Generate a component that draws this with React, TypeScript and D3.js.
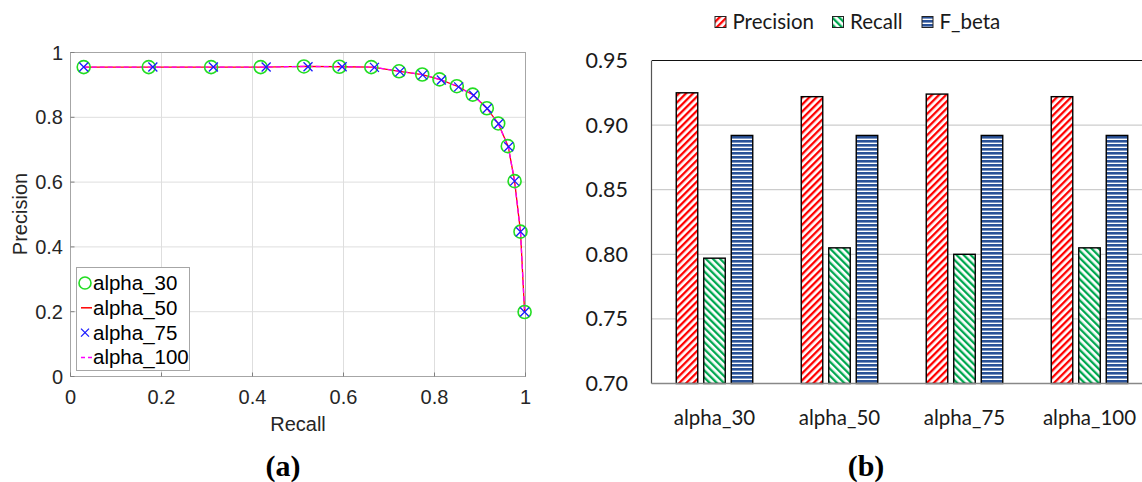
import React from "react";
import * as d3 from "d3";

// ---------- Data: left (PR curves) ----------
const recall30 = [0.029, 0.172, 0.309, 0.418, 0.513, 0.591, 0.661, 0.722, 0.773, 0.811, 0.849, 0.884, 0.915, 0.94, 0.961, 0.976, 0.989, 0.998];
const prec30 = [0.955, 0.955, 0.955, 0.955, 0.957, 0.956, 0.955, 0.942, 0.932, 0.917, 0.896, 0.87, 0.828, 0.781, 0.711, 0.603, 0.447, 0.199];
const recall50 = [0.029, 0.176, 0.311, 0.424, 0.517, 0.594, 0.664, 0.723, 0.773, 0.813, 0.851, 0.885, 0.915, 0.94, 0.962, 0.976, 0.989, 0.998];
const prec50 = [0.955, 0.955, 0.955, 0.955, 0.957, 0.956, 0.955, 0.942, 0.932, 0.916, 0.895, 0.869, 0.828, 0.781, 0.71, 0.603, 0.447, 0.199];
const recall75 = [0.029, 0.181, 0.314, 0.43, 0.522, 0.597, 0.668, 0.724, 0.774, 0.815, 0.853, 0.886, 0.916, 0.941, 0.963, 0.976, 0.989, 0.998];
const prec75 = [0.955, 0.955, 0.955, 0.955, 0.956, 0.956, 0.954, 0.941, 0.931, 0.915, 0.894, 0.868, 0.827, 0.78, 0.709, 0.603, 0.447, 0.199];
const recall100 = [0.029, 0.176, 0.311, 0.424, 0.517, 0.594, 0.664, 0.723, 0.773, 0.813, 0.851, 0.885, 0.915, 0.94, 0.962, 0.976, 0.989, 0.998];
const prec100 = [0.955, 0.955, 0.955, 0.955, 0.957, 0.956, 0.955, 0.942, 0.932, 0.916, 0.895, 0.869, 0.828, 0.781, 0.71, 0.603, 0.447, 0.199];
const leftTicks = [0, 0.2, 0.4, 0.6, 0.8, 1];
const leftTickLabels = ["0", "0.2", "0.4", "0.6", "0.8", "1"];
const leftLegend = ["alpha_30", "alpha_50", "alpha_75", "alpha_100"];

// ---------- Data: right (bars) ----------
const categories = ["alpha_30", "alpha_50", "alpha_75", "alpha_100"];
const seriesNames = ["Precision", "Recall", "F_beta"];
const precisionVals = [0.925, 0.922, 0.924, 0.922];
const recallVals = [0.797, 0.805, 0.8, 0.805];
const fbetaVals = [0.892, 0.892, 0.892, 0.892];
const rightTicks = [0.7, 0.75, 0.8, 0.85, 0.9, 0.95];
const rightTickLabels = ["0.70", "0.75", "0.80", "0.85", "0.90", "0.95"];

const patternIds = ["patP", "patR", "patF"];

export default function App() {
  // left scales
  const lx = d3.scaleLinear().domain([0, 1]).range([70.5, 525.5]);
  const ly = d3.scaleLinear().domain([0, 1]).range([376.5, 52.5]);
  const line = d3
    .line<[number, number]>()
    .x((d) => lx(d[0]))
    .y((d) => ly(d[1]));
  const zip = (a: number[], b: number[]) => a.map((v, i) => [v, b[i]] as [number, number]);
  const pts30 = zip(recall30, prec30);
  const pts50 = zip(recall50, prec50);
  const pts75 = zip(recall75, prec75);
  const pts100 = zip(recall100, prec100);

  // right scales
  const bx = d3.scaleBand().domain(categories).range([652, 1152]).paddingInner(0).paddingOuter(0);
  const by = d3.scaleLinear().domain([0.7, 0.95]).range([383.5, 60.5]);
  const seriesVals = [precisionVals, recallVals, fbetaVals];

  const leftFont = "'Liberation Sans', Arial, sans-serif";
  const rightFont = "Lato, 'Open Sans', sans-serif";
  const serif = "'Liberation Serif', 'Times New Roman', serif";

  const crossPath = (cx: number, cy: number, s: number) =>
    `M${cx - s},${cy - s}L${cx + s},${cy + s}M${cx - s},${cy + s}L${cx + s},${cy - s}`;

  return (
    <svg
      width={1142}
      height={482}
      style={{ position: "absolute", left: 0, top: 0, background: "#fff" }}
    >
      <defs>
        <pattern id="patP" width={5} height={5} patternUnits="userSpaceOnUse" patternTransform="rotate(45)">
          <rect width={5} height={5} fill="#fff" />
          <rect width={2.3} height={5} fill="#ff0000" />
        </pattern>
        <pattern id="patR" width={5} height={5} patternUnits="userSpaceOnUse" patternTransform="rotate(-45)">
          <rect width={5} height={5} fill="#fff" />
          <rect width={2.3} height={5} fill="#00a850" />
        </pattern>
        <pattern id="patF" width={4} height={4} patternUnits="userSpaceOnUse">
          <rect width={4} height={4} fill="#fff" />
          <rect width={4} height={2.6} fill="#2a5298" />
        </pattern>
        <clipPath id="leftClip">
          <rect x={70} y={52} width={456} height={325} />
        </clipPath>
      </defs>
      <rect width={1142} height={482} fill="#fff" />

      {/* ================= LEFT CHART ================= */}
      <g>
        {leftTicks.map((t, i) => (
          <g key={"lg" + i}>
            <line x1={lx(t)} x2={lx(t)} y1={ly(0)} y2={ly(1)} stroke="#dedede" strokeWidth={1} />
            <line x1={lx(0)} x2={lx(1)} y1={ly(t)} y2={ly(t)} stroke="#dedede" strokeWidth={1} />
          </g>
        ))}
        <rect x={lx(0)} y={ly(1)} width={lx(1) - lx(0)} height={ly(0) - ly(1)} fill="none" stroke="#a6a6a6" strokeWidth={1} />
        {leftTicks.map((t, i) => (
          <g key={"lt" + i}>
            <line x1={lx(t)} x2={lx(t)} y1={ly(0)} y2={ly(0) - 4} stroke="#808080" />
            <line x1={lx(0)} x2={lx(0) + 4} y1={ly(t)} y2={ly(t)} stroke="#808080" />
            <text x={lx(t)} y={404} textAnchor="middle" fontFamily={leftFont} fontSize={20} fill="#262626">
              {leftTickLabels[i]}
            </text>
            <text x={63} y={ly(t) + 7} textAnchor="end" fontFamily={leftFont} fontSize={20} fill="#262626">
              {leftTickLabels[i]}
            </text>
          </g>
        ))}
        <text x={298} y={431} textAnchor="middle" fontFamily={leftFont} fontSize={20} fill="#262626">
          Recall
        </text>
        <text
          transform={`translate(27,${214}) rotate(-90)`}
          textAnchor="middle"
          fontFamily={leftFont}
          fontSize={20}
          fill="#262626"
        >
          Precision
        </text>

        <g clipPath="url(#leftClip)">
          <path d={line(pts50) || ""} fill="none" stroke="#ff0000" strokeWidth={1.3} />
          <path d={line(pts100) || ""} fill="none" stroke="#ff00ff" strokeWidth={1.3} strokeDasharray="5,3" />
        </g>
        {pts30.map((p, i) => (
          <circle key={"c" + i} cx={lx(p[0])} cy={ly(p[1])} r={6.5} fill="none" stroke="#22dd22" strokeWidth={1.6} />
        ))}
        {pts75.map((p, i) => (
          <path key={"x" + i} d={crossPath(lx(p[0]), ly(p[1]), 4.5)} stroke="#1a1aff" strokeWidth={1.3} fill="none" />
        ))}

        {/* legend */}
        <rect x={76.5} y={267.5} width={113} height={103} fill="#fff" stroke="#a6a6a6" strokeWidth={1} />
        {leftLegend.map((name, i) => {
          const cy = 283 + i * 24.8;
          let icon: React.ReactNode = null;
          if (i === 0) icon = <circle cx={85} cy={cy} r={6} fill="none" stroke="#22dd22" strokeWidth={1.6} />;
          else if (i === 1) icon = <line x1={81} x2={92} y1={cy} y2={cy} stroke="#ff0000" strokeWidth={1.5} />;
          else if (i === 2) icon = <path d={crossPath(85, cy, 4)} stroke="#1a1aff" strokeWidth={1.3} fill="none" />;
          else icon = <line x1={81} x2={93} y1={cy} y2={cy} stroke="#ff00ff" strokeWidth={1.5} strokeDasharray="4,3" />;
          return (
            <g key={"leg" + i}>
              {icon}
              <text x={93} y={cy + 7} fontFamily={leftFont} fontSize={20.5} fill="#000">
                {name}
              </text>
            </g>
          );
        })}

        <text x={283} y={476} textAnchor="middle" fontFamily={serif} fontWeight="bold" fontSize={30} fill="#000">
          (a)
        </text>
      </g>

      {/* ================= RIGHT CHART ================= */}
      <g>
        {rightTicks.slice(1, 5).map((t, i) => (
          <line key={"rg" + i} x1={652} x2={1142} y1={by(t)} y2={by(t)} stroke="#c0c0c0" strokeWidth={1} />
        ))}
        <line x1={652} x2={1142} y1={by(0.95)} y2={by(0.95)} stroke="#111" strokeWidth={1.2} />
        <line x1={651.5} x2={651.5} y1={by(0.95)} y2={by(0.7)} stroke="#555" strokeWidth={1.2} />
        {rightTicks.map((t, i) => (
          <text key={"rt" + i} x={628} y={by(t) + 7.5} textAnchor="end" fontFamily={rightFont} fontSize={21.5} fill="#1a1a1a">
            {rightTickLabels[i]}
          </text>
        ))}

        {categories.map((c, ci) => {
          const center = (bx(c) || 0) + bx.bandwidth() / 2;
          const inner = d3
            .scaleBand()
            .domain(seriesNames)
            .range([center - 38.25, center + 38.25])
            .paddingInner(0.218)
            .paddingOuter(0);
          return (
            <g key={"cat" + ci}>
              {seriesNames.map((s, si) => {
                const v = seriesVals[si][ci];
                const x0 = inner(s) || 0;
                return (
                  <rect
                    key={s}
                    x={x0}
                    y={by(v)}
                    width={inner.bandwidth()}
                    height={by(0.7) - by(v)}
                    fill={`url(#${patternIds[si]})`}
                    stroke="#000"
                    strokeWidth={1.4}
                  />
                );
              })}
              <text x={center} y={425} textAnchor="middle" fontFamily={rightFont} fontSize={20.5} fill="#1a1a1a">
                {c}
              </text>
            </g>
          );
        })}
        <line x1={651.5} x2={1142} y1={by(0.7)} y2={by(0.7)} stroke="#888" strokeWidth={1.5} />

        {/* legend */}
        {seriesNames.map((s, i) => {
          const sx = [715, 832.5, 922][i];
          return (
            <g key={"rl" + i}>
              <rect x={sx} y={16.5} width={11} height={11} fill={`url(#${patternIds[i]})`} stroke="#222" strokeWidth={1} />
              <text x={sx + 17.5} y={28.5} fontFamily={rightFont} fontSize={20.5} fill="#1a1a1a">
                {s}
              </text>
            </g>
          );
        })}

        <text x={866} y={476} textAnchor="middle" fontFamily={serif} fontWeight="bold" fontSize={30} fill="#000">
          (b)
        </text>
      </g>
    </svg>
  );
}
